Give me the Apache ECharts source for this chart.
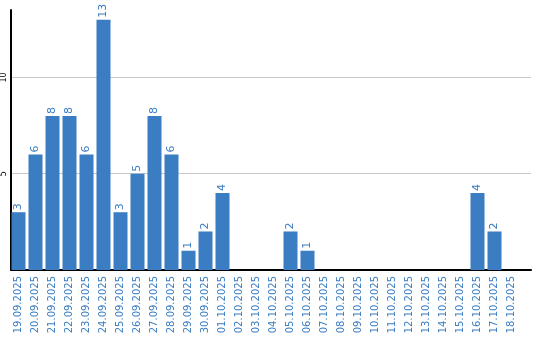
<!DOCTYPE html>
<html><head><meta charset="utf-8">
<script src="https://cdn.jsdelivr.net/npm/echarts@6/dist/echarts.min.js"></script>
<style>html,body{margin:0;padding:0;background:#fff}#c{width:540px;height:340px}</style>
</head><body><div id="c"></div>
<script>
const categories = ["19.09.2025","20.09.2025","21.09.2025","22.09.2025","23.09.2025","24.09.2025","25.09.2025","26.09.2025","27.09.2025","28.09.2025","29.09.2025","30.09.2025","01.10.2025","02.10.2025","03.10.2025","04.10.2025","05.10.2025","06.10.2025","07.10.2025","08.10.2025","09.10.2025","10.10.2025","11.10.2025","12.10.2025","13.10.2025","14.10.2025","15.10.2025","16.10.2025","17.10.2025","18.10.2025"];
const values = [3,6,8,8,6,13,3,5,8,6,1,2,4,0,0,0,2,1,0,0,0,0,0,0,0,0,0,4,2,0];
const yTicks = [0,5,10];
const yMax = 13.5;
const blue = '#3a7dc2';
const chart = echarts.init(document.getElementById('c'), null, {renderer:'canvas'});
chart.setOption({
  animation:false,
  grid:[
    {left:10,top:10,width:521,bottom:70},
    {left:10,top:10,width:510,bottom:70}
  ],
  xAxis:[
    {type:'value',gridIndex:0,min:0,max:1,show:true,
      axisLine:{show:true,onZero:false,lineStyle:{color:'#000',width:2}},axisTick:{show:false},
      axisLabel:{show:false},splitLine:{show:false}},
    {type:'category',gridIndex:1,data:categories,
      axisLine:{show:false},axisTick:{show:false},
      axisLabel:{rotate:90,color:blue,fontFamily:'DejaVu Sans',fontSize:10,margin:6,interval:0}}
  ],
  yAxis:[
    {type:'value',gridIndex:0,min:0,max:yMax,interval:5,
      axisLine:{show:true,lineStyle:{color:'#000',width:2}},axisTick:{show:false},
      splitLine:{show:true,showMaxLine:false,showMinLine:false,lineStyle:{color:'#c8c8c8'}},
      axisLabel:{rotate:90,color:'#000',fontFamily:'DejaVu Sans',fontSize:8,margin:3,
        showMaxLabel:false,
        formatter:v=>yTicks.includes(v)&&v!==0?String(v):''}},
    {type:'value',gridIndex:1,min:0,max:yMax,show:false,splitLine:{show:false}}
  ],
  series:[{type:'bar',xAxisIndex:1,yAxisIndex:1,data:values,barWidth:14,itemStyle:{color:blue},
    label:{show:true,position:'top',rotate:90,align:'left',verticalAlign:'middle',distance:2,
      color:blue,fontFamily:'DejaVu Sans',fontSize:11,formatter:p=>p.value?String(p.value):''}}]
});
</script></body></html>
